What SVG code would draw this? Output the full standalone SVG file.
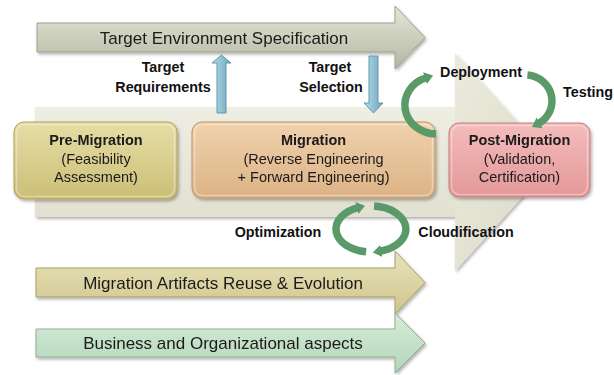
<svg xmlns="http://www.w3.org/2000/svg" width="614" height="375" viewBox="0 0 614 375">
<defs>
<style>
.t{font-family:"Liberation Sans",Arial,sans-serif;fill:#1a1a1a;text-anchor:middle}
.big{font-size:17px}
.bx{font-size:14.5px}
.b{font-weight:bold}
.lb{font-size:14.3px;font-weight:bold;fill:#111}
.green{fill:none;stroke:#5a9a68;stroke-width:7.5;marker-end:url(#gh)}
.blue{fill:url(#gBlue);stroke:#5f98ae;stroke-width:1}
</style>
<filter id="sh" x="-10%" y="-15%" width="125%" height="140%">
<feDropShadow dx="1.5" dy="2" stdDeviation="1.6" flood-color="#000" flood-opacity="0.3"/>
</filter>
<marker id="gh" viewBox="0 0 7 10" refX="1" refY="5" markerWidth="1.15" markerHeight="1.75" orient="auto" markerUnits="strokeWidth">
<path d="M0,0 L7,5 L0,10 z" fill="#5a9a68"/>
</marker>
<linearGradient id="gTop" x1="0" y1="0" x2="0" y2="1">
<stop offset="0" stop-color="#e3e5d8"/><stop offset="0.5" stop-color="#cdcfbd"/><stop offset="1" stop-color="#b4b6a3"/>
</linearGradient>
<linearGradient id="gBg" x1="0" y1="0" x2="0" y2="1">
<stop offset="0" stop-color="#efeee3"/><stop offset="1" stop-color="#e2e0d1"/>
</linearGradient>
<linearGradient id="gHead" x1="0" y1="0" x2="1" y2="1">
<stop offset="0" stop-color="#eceadc"/><stop offset="0.6" stop-color="#e2e0d0"/><stop offset="1" stop-color="#cfcebf"/>
</linearGradient>
<linearGradient id="gBlue" x1="0" y1="0" x2="1" y2="0">
<stop offset="0" stop-color="#b5dbe8"/><stop offset="1" stop-color="#6ea6bc"/>
</linearGradient>
<linearGradient id="gPre" x1="0" y1="0" x2="0" y2="1">
<stop offset="0" stop-color="#e6dea6"/><stop offset="1" stop-color="#cbbe76"/>
</linearGradient>
<linearGradient id="gMig" x1="0" y1="0" x2="0" y2="1">
<stop offset="0" stop-color="#f0d2ad"/><stop offset="1" stop-color="#dcb285"/>
</linearGradient>
<linearGradient id="gPost" x1="0" y1="0" x2="0" y2="1">
<stop offset="0" stop-color="#f4bcbc"/><stop offset="1" stop-color="#e39797"/>
</linearGradient>
<linearGradient id="gArt" x1="0" y1="0" x2="0" y2="1">
<stop offset="0" stop-color="#e9e3bb"/><stop offset="1" stop-color="#cfc58c"/>
</linearGradient>
<linearGradient id="gBus" x1="0" y1="0" x2="0" y2="1">
<stop offset="0" stop-color="#d6ecd8"/><stop offset="1" stop-color="#b3d6b8"/>
</linearGradient>
</defs>

<g id="phase-arrow" filter="url(#sh)">
<rect x="35" y="107" width="421" height="110" fill="url(#gBg)"/>
<polygon points="455,53 554,162 455,271" fill="url(#gHead)"/>
</g>

<g id="target-environment" filter="url(#sh)">
<polygon points="37,23 395,23 395,6 425,37.5 395,69 395,52 37,52" fill="url(#gTop)" stroke="#9fa18e" stroke-width="1"/>
<text class="t big" x="224" y="44">Target Environment Specification</text>
</g>

<g id="connectors">
<polygon class="blue" points="217,113 217,63 212,63 221.5,55 231,63 226,63 226,113"/>
<polygon class="blue" points="369,56 378,56 378,103 383,103 373.5,113 364,103 369,103"/>
</g>

<g id="pre-migration" filter="url(#sh)">
<rect x="14" y="122" width="163" height="77" rx="10" fill="url(#gPre)" stroke="#aea25c" stroke-width="1"/>
<rect x="16.5" y="124.5" width="158" height="72" rx="8" fill="none" stroke="#fff" stroke-opacity="0.35" stroke-width="1.5"/>
<text class="t bx b" x="96" y="145">Pre-Migration</text>
<text class="t bx" x="96" y="164">(Feasibility</text>
<text class="t bx" x="96" y="182">Assessment)</text>
</g>

<g id="migration" filter="url(#sh)">
<rect x="192" y="122" width="243" height="76" rx="10" fill="url(#gMig)" stroke="#bb966b" stroke-width="1"/>
<rect x="194.5" y="124.5" width="238" height="71" rx="8" fill="none" stroke="#fff" stroke-opacity="0.35" stroke-width="1.5"/>
<text class="t bx b" x="313.5" y="145">Migration</text>
<text class="t bx" x="313.5" y="164">(Reverse Engineering</text>
<text class="t bx" x="313.5" y="182">+ Forward Engineering)</text>
</g>

<g id="post-migration" filter="url(#sh)">
<rect x="449" y="123" width="141" height="74" rx="10" fill="url(#gPost)" stroke="#c47c7c" stroke-width="1"/>
<rect x="451.5" y="125.5" width="136" height="69" rx="8" fill="none" stroke="#fff" stroke-opacity="0.35" stroke-width="1.5"/>
<text class="t bx b" x="519.5" y="145">Post-Migration</text>
<text class="t bx" x="519.5" y="164">(Validation,</text>
<text class="t bx" x="519.5" y="182">Certification)</text>
</g>

<g id="loops">
<path class="green" d="M435.9,134 A32,29 0 0 1 426.1,77.7"/>
<path class="green" d="M527.4,75.1 A27,26 0 0 1 538.5,123.5"/>
<path class="green" d="M366.1,251.8 A35,23 0 0 1 357.9,207.7"/>
<path class="green" d="M374.1,206.1 A35,23 0 0 1 380.1,251.2"/>
</g>

<g id="labels">
<text class="t lb" x="163" y="72">Target</text>
<text class="t lb" x="163" y="92">Requirements</text>
<text class="t lb" x="330" y="72">Target</text>
<text class="t lb" x="331" y="92">Selection</text>
<text class="t lb" x="481" y="77">Deployment</text>
<text class="t lb" x="588" y="97">Testing</text>
<text class="t lb" x="278" y="237">Optimization</text>
<text class="t lb" x="466" y="237">Cloudification</text>
</g>

<g id="artifacts-reuse" filter="url(#sh)">
<polygon points="36,268 395,268 395,251 425,282.5 395,314 395,297 36,297" fill="url(#gArt)" stroke="#a99f64" stroke-width="1"/>
<text class="t big" x="223" y="288.5">Migration Artifacts Reuse &amp; Evolution</text>
</g>

<g id="business-aspects" filter="url(#sh)">
<polygon points="36,329 395,329 395,313 425,343 395,373 395,357 36,357" fill="url(#gBus)" stroke="#8fae95" stroke-width="1"/>
<text class="t big" x="223" y="349">Business and Organizational aspects</text>
</g>
</svg>
